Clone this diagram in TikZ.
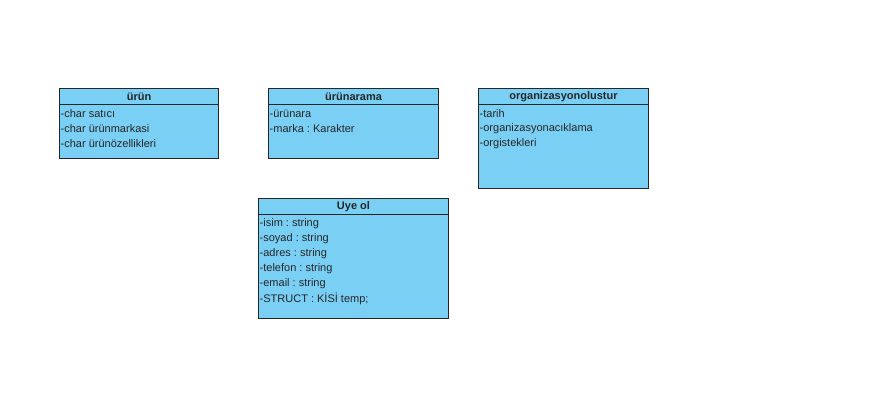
\documentclass[tikz,border=0pt]{standalone}
\usepackage{fontspec}
\setmainfont{Liberation Sans}
\usetikzlibrary{positioning}
\definecolor{classblue}{RGB}{122,207,245}
\frenchspacing
\tikzset{
 cls/.style
  = {rectangle, draw=black!85, fill=classblue, line width=1pt, anchor=north west,
     inner sep=0pt},
 head/.style
  = {font=\fontsize{11}{13}\selectfont\bfseries, text=black!85, inner sep=0pt},
 attr/.style
  = {font=\fontsize{11}{13}\selectfont, text=black!85, anchor=west, inner sep=0pt},
 sep/.style
  = {draw=black!85, line width=1pt},
}

\begin{document}
\begin{tikzpicture}[x=1pt,y=-1pt]
\useasboundingbox (0,0) rectangle (870,415);

% Class urun
\node[cls, minimum width=159, minimum height=70] (urun) at (59,88) {};
\draw[sep] ([yshift=-16pt]urun.north west) -- ([yshift=-16pt]urun.north east);
\node[head] (urunT) at ([yshift=-8.5pt]urun.north) {ürün};
\foreach \t [count=\i] in {-char satıcı,-char ürünmarkasi,-char ürünözellikleri}
  \node[attr] (urun\i) at ([xshift=1.5pt,yshift={-11-15*\i}]urun.north west) {\t};

% Class urunarama
\node[cls, minimum width=170, minimum height=70] (arama) at (268,88) {};
\draw[sep] ([yshift=-16pt]arama.north west) -- ([yshift=-16pt]arama.north east);
\node[head] (aramaT) at ([yshift=-8.5pt]arama.north) {ürünarama};
\foreach \t [count=\i] in {-ürünara,-marka : Karakter}
  \node[attr] (arama\i) at ([xshift=1.5pt,yshift={-11-15*\i}]arama.north west) {\t};

% Class organizasyonolustur
\node[cls, minimum width=170, minimum height=100] (org) at (478,88) {};
\draw[sep] ([yshift=-16pt]org.north west) -- ([yshift=-16pt]org.north east);
\node[head] (orgT) at ([yshift=-8.5pt]org.north) {organizasyonolustur};
\foreach \t [count=\i] in {-tarih,-organizasyonacıklama,-orgistekleri}
  \node[attr] (org\i) at ([xshift=1.5pt,yshift={-11-15*\i}]org.north west) {\t};

% Class Uye ol
\node[cls, minimum width=190, minimum height=120] (uye) at (258,198) {};
\draw[sep] ([yshift=-16pt]uye.north west) -- ([yshift=-16pt]uye.north east);
\node[head] (uyeT) at ([yshift=-8.5pt]uye.north) {Uye ol};
\foreach \t [count=\i] in {-isim : string,-soyad : string,-adres : string,-telefon : string,-email : string,-STRUCT : KİSİ temp;}
  \node[attr] (uye\i) at ([xshift=1.5pt,yshift={-11-15*\i}]uye.north west) {\t};

\end{tikzpicture}
\end{document}
